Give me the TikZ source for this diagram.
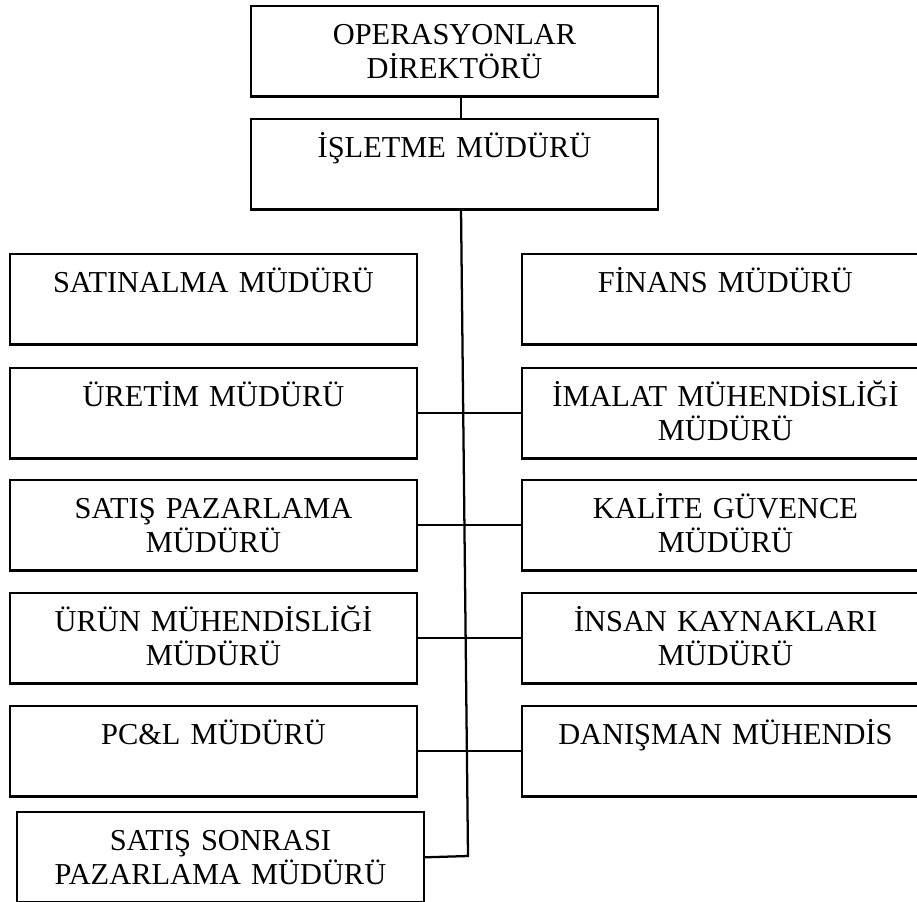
\documentclass[tikz,border=0pt]{standalone}
\usepackage{fontspec}
\setmainfont{Liberation Serif}

\begin{document}
\begin{tikzpicture}[x=0.75pt, y=-0.75pt,
	unit/.style={draw, rectangle, line width=1.7pt, anchor=north west, align=center,
		inner xsep=0pt, inner ysep=0pt, text width=305pt, text height=29pt, text depth=38.75pt,
		font=\fontsize{22.8}{25.2}\selectfont},
	link/.style={line width=1.7pt}]
	\useasboundingbox (0,0) rectangle (917,901);
	
	% Top of the chart
	\node[unit] (ops) at (250,5) {OPERASYONLAR\\DİREKTÖRÜ};
	\node[unit] (isl) at (250,118) {İŞLETME MÜDÜRÜ};
	
	% Left column
	\node[unit] (satin) at (9,253) {SATINALMA MÜDÜRÜ};
	\node[unit] (uretim) at (9,367) {ÜRETİM MÜDÜRÜ};
	\node[unit] (satis) at (9,479) {SATIŞ PAZARLAMA\\MÜDÜRÜ};
	\node[unit] (urun) at (9,592) {ÜRÜN MÜHENDİSLİĞİ\\MÜDÜRÜ};
	\node[unit] (pcl) at (9,705) {PC\&L MÜDÜRÜ};
	\node[unit] (sonra) at (16,811) {SATIŞ SONRASI\\PAZARLAMA MÜDÜRÜ};
	
	% Right column
	\node[unit] (finans) at (521,253) {FİNANS MÜDÜRÜ};
	\node[unit] (imalat) at (521,367) {İMALAT MÜHENDİSLİĞİ\\MÜDÜRÜ};
	\node[unit] (kalite) at (521,479) {KALİTE GÜVENCE\\MÜDÜRÜ};
	\node[unit] (insan) at (521,592) {İNSAN KAYNAKLARI\\MÜDÜRÜ};
	\node[unit] (danis) at (521,705) {DANIŞMAN MÜHENDİS};
	
	% Main line
	\coordinate (trunktop) at (461,208);
	\coordinate (trunkend) at (468,856);
	\draw[link] (ops.south -| trunktop) -- (isl.north -| trunktop);
	\draw[link] (trunktop) -- (trunkend) -- (sonra.east);
	
	% Cross links
	\foreach \l/\r in {uretim/imalat, satis/kalite, urun/insan, pcl/danis}
	\draw[link] (\l.east) -- (\r.west);
\end{tikzpicture}
\end{document}
